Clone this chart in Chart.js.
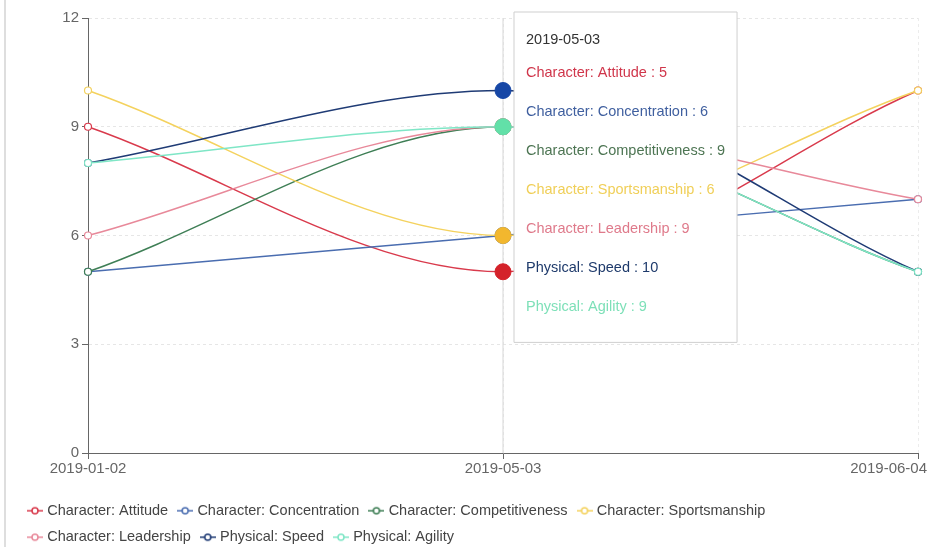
<!DOCTYPE html>
<html>
<head>
<meta charset="utf-8">
<script src="https://cdn.jsdelivr.net/npm/chart.js@4"></script>
<style>
  html, body { margin: 0; padding: 0; background: #fff; }
  #wrap { position: relative; width: 928px; height: 547px; }
  #edge { position: absolute; left: 4px; top: 0; width: 2px; height: 547px; background: #dedede; }
</style>
</head>
<body>
<div id="wrap">
  <div id="edge"></div>
  <canvas id="chart" width="928" height="547"></canvas>
</div>
<script>
// categories (x axis)
const dates = ['2019-01-02', '2019-05-03', '2019-06-04'];

// series values
const attitude        = [9, 5, 10];
const concentration   = [5, 6, 7];
const competitiveness = [5, 9, 5];
const sportsmanship   = [10, 6, 10];
const leadership      = [6, 9, 7];
const speed           = [8, 10, 5];
const agility         = [8, 9, 5];

const seriesNames = [
    'Character: Attitude', 'Character: Concentration', 'Character: Competitiveness',
    'Character: Sportsmanship', 'Character: Leadership', 'Physical: Speed', 'Physical: Agility'
];
const seriesValues = [attitude, concentration, competitiveness, sportsmanship, leadership, speed, agility];
const lineColors  = ['#d93a4c', '#4a6db0', '#3f7f56', '#f4d25e', '#e8899a', '#1f3b75', '#7fe6c6'];
const dotColors   = ['#d4222a', '#3f66b5', '#3f8a5a', '#f2b72e', '#e07a8c', '#1747a6', '#62e0a8'];
const textColors  = ['#d0364b', '#3f5f9f', '#4d7553', '#f0cf58', '#df7a8b', '#1e3a6b', '#7de0b8'];

// y axis ticks
const yTicks = [0, 3, 6, 9, 12];

const activeIndex = 1;
const FONT = "'Liberation Sans', Arial, sans-serif";

// legend icon: short line with hollow circle
function legendIcon(color) {
    const c = document.createElement('canvas');
    c.width = 16; c.height = 10;
    const g = c.getContext('2d');
    g.strokeStyle = color;
    g.lineWidth = 1.5;
    g.beginPath(); g.moveTo(0, 5); g.lineTo(16, 5); g.stroke();
    g.beginPath(); g.arc(8, 5, 3, 0, Math.PI * 2);
    g.fillStyle = '#fff'; g.fill(); g.stroke();
    return c;
}

const datasets = seriesNames.map((name, i) => ({
    label: name,
    data: seriesValues[i],
    borderColor: lineColors[i],
    backgroundColor: lineColors[i],
    borderWidth: 1.5,
    cubicInterpolationMode: 'monotone',
    pointRadius: 3.5,
    pointBorderWidth: 1.2,
    pointBackgroundColor: '#fff',
    pointBorderColor: lineColors[i],
    pointHoverRadius: 8,
    pointHoverBorderWidth: 1,
    pointHoverBackgroundColor: dotColors[i],
    pointHoverBorderColor: dotColors[i],
    pointStyle: 'circle',
    legendIcon: legendIcon(lineColors[i]),
    order: seriesNames.length - i
}));

Chart.Tooltip.positioners.fixedBox = function (items) {
    if (!items.length) return false;
    return {
        x: items[0].element.x + 11,
        y: this.chart.chartArea.top - 6,
        xAlign: 'left',
        yAlign: 'top'
    };
};

const cursorLine = {
    id: 'cursorLine',
    beforeDatasetsDraw(chart) {
        const act = chart.getActiveElements();
        if (!act.length) return;
        const x = act[0].element.x;
        const { top, bottom } = chart.chartArea;
        const ctx = chart.ctx;
        ctx.save();
        ctx.strokeStyle = '#d6d6d6';
        ctx.lineWidth = 1;
        ctx.beginPath();
        ctx.moveTo(x, top);
        ctx.lineTo(x, bottom);
        ctx.stroke();
        ctx.restore();
    }
};

// x labels: centered under tick, kept inside the canvas
const xLabels = {
    id: 'xLabels',
    afterDraw(chart) {
        const scale = chart.scales.x;
        const ctx = chart.ctx;
        ctx.save();
        ctx.font = '15px ' + FONT;
        ctx.fillStyle = '#666';
        ctx.textBaseline = 'top';
        ctx.textAlign = 'left';
        dates.forEach((d, i) => {
            const w = ctx.measureText(d).width;
            let x = scale.getPixelForTick(i) - w / 2;
            x = Math.min(x, chart.width - w - 1);
            ctx.fillText(d, x, scale.top + 8);
        });
        ctx.restore();
    }
};

const legendShift = {
    id: 'legendShift',
    afterLayout(chart) {
        chart.legend.top += 7.5;
        chart.legend.bottom += 7.5;
    }
};

const chart = new Chart(document.getElementById('chart'), {
    type: 'line',
    data: { labels: dates, datasets: datasets },
    plugins: [cursorLine, xLabels, legendShift],
    options: {
        responsive: false,
        animation: false,
        events: [],
        layout: { padding: { top: 18, right: 10, left: 18, bottom: 0 } },
        interaction: { mode: 'index', intersect: false },
        scales: {
            x: {
                type: 'category',
                offset: false,
                afterFit(scale) { scale.paddingLeft = 0; scale.paddingRight = 0; scale.height = 31; },
                grid: { color: '#ececec', tickColor: '#666', tickLength: 6, drawOnChartArea: true },
                border: { color: '#666', width: 1, dash: [3, 3] },
                ticks: { display: false }
            },
            y: {
                min: 0,
                max: 12,
                afterBuildTicks(scale) { scale.ticks = yTicks.map(v => ({ value: v })); },
                afterFit(scale) { scale.width = 70; },
                grid: { color: (c) => c.tick && c.tick.value === 0 ? 'rgba(0,0,0,0)' : '#e6e6e6', tickColor: '#666', tickLength: 6 },
                border: { color: '#666', width: 1, dash: [3, 3] },
                ticks: { color: '#666', padding: 3, font: { family: FONT, size: 15 } }
            }
        },
        plugins: {
            legend: {
                position: 'bottom',
                align: 'start',
                labels: {
                    usePointStyle: true,
                    boxWidth: 10,
                    padding: 12,
                    color: '#444',
                    font: { family: FONT, size: 14.5 },
                    generateLabels(ch) {
                        return ch.data.datasets.map((ds, i) => ({
                            text: ds.label,
                            fillStyle: '#fff',
                            strokeStyle: ds.borderColor,
                            fontColor: '#444',
                            lineWidth: 1.5,
                            pointStyle: ds.legendIcon,
                            hidden: false,
                            datasetIndex: i
                        }));
                    },
                    sort: (a, b) => a.datasetIndex - b.datasetIndex
                }
            },
            tooltip: {
                position: 'fixedBox',
                backgroundColor: '#fff',
                borderColor: '#cfcfcf',
                borderWidth: 1,
                cornerRadius: 0,
                caretSize: 0,
                caretPadding: 0,
                displayColors: false,
                padding: { left: 12, right: 12, top: 19, bottom: 27 },
                titleColor: '#333',
                titleFont: { family: FONT, size: 14.5, weight: 'normal' },
                titleMarginBottom: 15.6,
                bodyFont: { family: FONT, size: 14.5 },
                bodySpacing: 21.6,
                itemSort: (a, b) => a.datasetIndex - b.datasetIndex,
                callbacks: {
                    label: (item) => `${item.dataset.label} : ${item.parsed.y}`,
                    labelTextColor: (item) => textColors[item.datasetIndex]
                }
            }
        }
    }
});

const active = seriesNames.map((_, i) => ({ datasetIndex: i, index: activeIndex }));
chart.setActiveElements(active);
const el = chart.getDatasetMeta(0).data[activeIndex];
chart.tooltip.setActiveElements(active, { x: el.x, y: el.y });
chart.update();
</script>
</body>
</html>
